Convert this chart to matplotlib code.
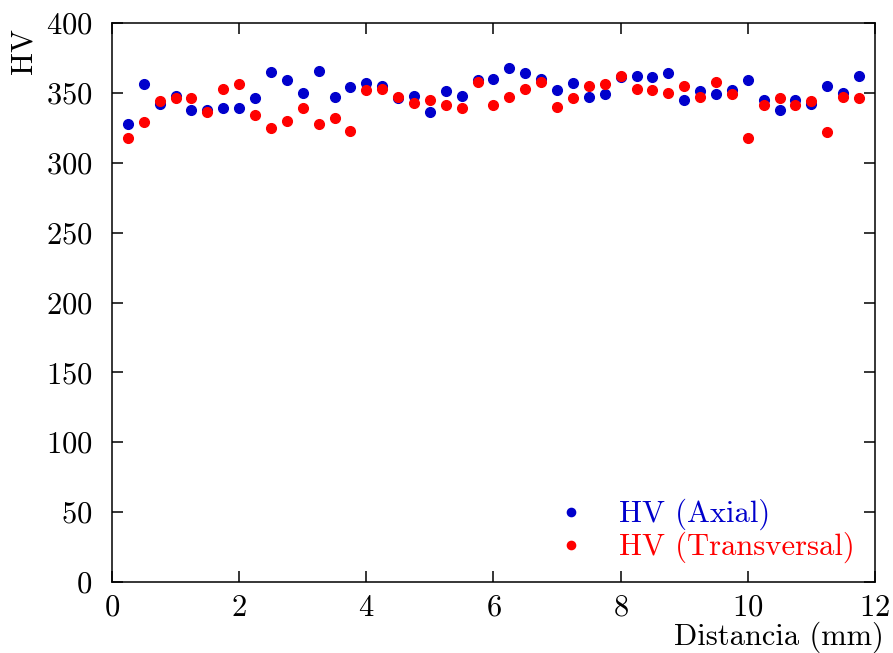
import numpy as np
import matplotlib
matplotlib.use('Agg')
import matplotlib.pyplot as plt

# Datos (dureza Vickers vs distancia)
distancia = [0.25, 0.5, 0.75, 1.0, 1.25, 1.5, 1.75, 2.0, 2.25, 2.5, 2.75, 3.0,
             3.25, 3.5, 3.75, 4.0, 4.25, 4.5, 4.75, 5.0, 5.25, 5.5, 5.75, 6.0,
             6.25, 6.5, 6.75, 7.0, 7.25, 7.5, 7.75, 8.0, 8.25, 8.5, 8.75, 9.0,
             9.25, 9.5, 9.75, 10.0, 10.25, 10.5, 10.75, 11.0, 11.25, 11.5, 11.75]

hv_axial = [328, 356, 342, 348, 338, 338, 339, 339, 346, 365, 359, 350,
            366, 347, 354, 357, 355, 346, 348, 336, 351, 348, 359, 360,
            368, 364, 360, 352, 357, 347, 349, 361, 362, 361, 364, 345,
            351, 349, 352, 359, 345, 338, 345, 342, 355, 350, 362]

hv_transversal = [318, 329, 344, 346, 346, 336, 353, 356, 334, 325, 330, 339,
                  328, 332, 323, 352, 353, 347, 343, 345, 341, 339, 358, 341,
                  347, 353, 358, 340, 346, 355, 356, 362, 353, 352, 350, 355,
                  347, 358, 349, 318, 341, 346, 341, 344, 322, 347, 346]

plt.rcParams['font.family'] = ['cmr10', 'DejaVu Serif']
plt.rcParams['axes.formatter.use_mathtext'] = True
plt.rcParams['mathtext.fontset'] = 'cm'

fig = plt.figure(figsize=(8.93, 6.53), dpi=100)
ax = fig.add_axes([0.1254, 0.1087, 0.8544, 0.8561])

azul = '#0000cc'
rojo = '#ff0000'
ax.plot(distancia, hv_axial, 'o', color=azul, markersize=7, label='HV (Axial)')
ax.plot(distancia, hv_transversal, 'o', color=rojo, markersize=7, label='HV (Transversal)')

ax.set_xlim(0, 12)
ax.set_ylim(0, 400)
ax.set_xticks(np.arange(0, 13, 2))
ax.set_yticks(np.arange(0, 401, 50))
ax.tick_params(direction='in', length=8, width=1.1, top=True, right=True,
               labelsize=22)
ax.tick_params(axis='y', pad=14)
ax.tick_params(axis='x', pad=9)
for s in ax.spines.values():
    s.set_linewidth(1.1)

ax.set_xlabel('Distancia (mm)', fontsize=22, ha='right')
ax.xaxis.set_label_coords(1.012, -0.07)
ax.set_ylabel('HV', fontsize=22, va='center')
ax.yaxis.set_label_coords(-0.116, 0.95)

leg = ax.legend(loc='lower right', frameon=False, fontsize=22,
                bbox_to_anchor=(1.009, -0.016), handletextpad=0.55,
                labelspacing=0.05, markerscale=0.85)
for txt, c in zip(leg.get_texts(), [azul, rojo]):
    txt.set_color(c)

fig.savefig('out.png', dpi=100)
